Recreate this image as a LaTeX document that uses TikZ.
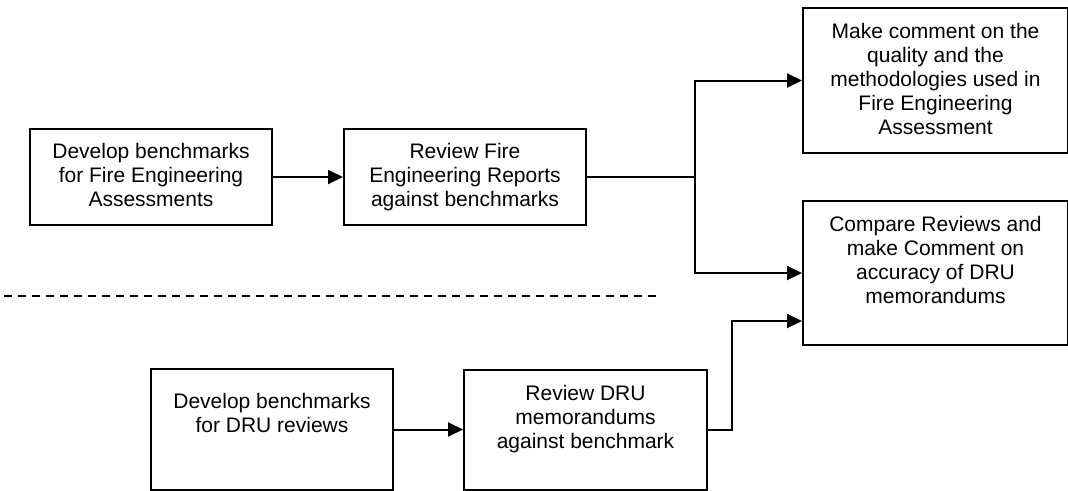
\documentclass[tikz,border=0pt]{standalone}
\usepackage{fontspec}
\setmainfont{Liberation Sans}
\usetikzlibrary{arrows.meta}
\begin{document}
\begin{tikzpicture}[x=1pt,y=-1pt,
  boxnode/.style={draw, line width=2pt, inner sep=0pt, anchor=north west},
  txt/.style={anchor=north, inner sep=0pt, align=center, font=\fontsize{21}{24}\selectfont},
  conn/.style={line width=2pt, -{Triangle[length=15pt,width=14pt]}},
  plainconn/.style={line width=2pt},
  sep/.style={line width=2pt, dash pattern=on 8pt off 6pt}]
\useasboundingbox (0,0) rectangle (1068,490);
% boxes
\node[boxnode, minimum width=242pt, minimum height=96pt] (b1) at (29,128) {};
\node[boxnode, minimum width=242pt, minimum height=96pt] (b2) at (343,128) {};
\node[boxnode, minimum width=265pt, minimum height=145pt] (b3) at (802,7) {};
\node[boxnode, minimum width=265pt, minimum height=144pt] (b4) at (802,200) {};
\node[boxnode, minimum width=242pt, minimum height=121pt] (b5) at (150,368) {};
\node[boxnode, minimum width=243pt, minimum height=120pt] (b6) at (463,369) {};
% texts
\node[txt] (t1) at ([yshift=-15pt]b1.north) {Develop benchmarks\\for Fire Engineering\\Assessments};
\node[txt] (t2) at ([yshift=-15pt]b2.north) {Review Fire\\Engineering Reports\\against benchmarks};
\node[txt] (t3) at ([yshift=-16pt]b3.north) {Make comment on the\\quality and the\\methodologies used in\\Fire Engineering\\Assessment};
\node[txt] (t4) at ([yshift=-16pt]b4.north) {Compare Reviews and\\make Comment on\\accuracy of DRU\\memorandums};
\node[txt] (t5) at ([yshift=-25pt]b5.north) {Develop benchmarks\\for DRU reviews};
\node[txt] (t6) at ([yshift=-16pt]b6.north) {Review DRU\\memorandums\\against benchmark};
% connectors
\path (b2.east) ++(108,0) coordinate (split);
\path (b6.east) ++(24,0) coordinate (rise);
\coordinate (bend) at (rise |- 0,321);
\draw[conn] (b1.east) -- (b1.east -| b2.west);
\draw[plainconn] (b2.east) -- (split);
\draw[conn] (split) |- (b3.west);
\draw[conn] (split) |- (b4.west);
\draw[conn] (b5.east) -- (b5.east -| b6.west);
\draw[conn] (b6.east) -- (rise) -- (bend) -- (b4.west |- bend);
% separator
\coordinate (d1) at (4,296);
\coordinate (d2) at (657,296);
\draw[sep] (d1) -- (d2);
\end{tikzpicture}
\end{document}
